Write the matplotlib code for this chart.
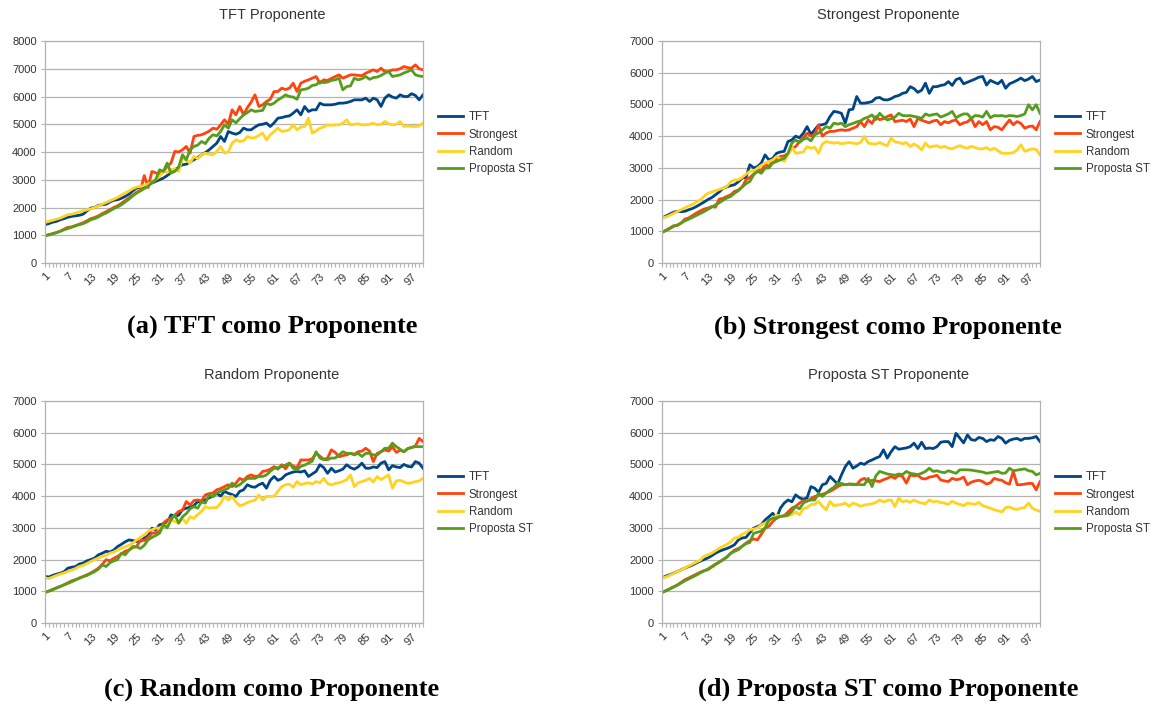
import matplotlib.pyplot as plt

plt.rcParams['font.family'] = ['Liberation Sans', 'DejaVu Sans']

rounds = list(range(1, 101))
tick_rounds = [1, 7, 13, 19, 25, 31, 37, 43, 49, 55, 61, 67, 73, 79, 85, 91, 97]
tick_labels = ['1', '7', '13', '19', '25', '31', '37', '43', '49', '55',
               '61', '67', '73', '79', '85', '91', '97']
series_names = ['TFT', 'Strongest', 'Random', 'Proposta ST']
colors = ['#004586', '#ff420e', '#ffd320', '#579d1c']

# (a) TFT as proponent
tft_a = [
    1380, 1420, 1470, 1500, 1560, 1600, 1650, 1680, 1700, 1720,
    1760, 1880, 1980, 2000, 2080, 2100, 2120, 2200, 2260, 2280,
    2330, 2400, 2480, 2600, 2700, 2720, 2760, 2820, 2880, 2940,
    3000, 3060, 3150, 3260, 3350, 3450, 3540, 3560, 3640, 3720,
    3800, 3900, 3980, 4080, 4200, 4320, 4560, 4380, 4740, 4680,
    4640, 4700, 4860, 4800, 4800, 4900, 4980, 5000, 5040, 4920,
    5050, 5220, 5240, 5280, 5300, 5400, 5520, 5340, 5640, 5460,
    5520, 5520, 5760, 5700, 5700, 5700, 5720, 5760, 5760, 5780,
    5820, 5880, 5880, 5880, 5940, 5820, 5940, 5880, 5640, 5940,
    6060, 5980, 5940, 6060, 6000, 6000, 6100, 6040, 5880, 6060]
strongest_a = [
    985, 1020, 1060, 1100, 1150, 1220, 1285, 1300, 1350, 1400,
    1450, 1520, 1600, 1640, 1700, 1780, 1850, 1920, 2000, 2060,
    2150, 2250, 2350, 2450, 2550, 2620, 3150, 2720, 3300, 3250,
    3200, 3300, 3480, 3600, 4020, 4000, 4080, 4200, 3960, 4560,
    4600, 4620, 4680, 4750, 4860, 4820, 4980, 5160, 5000, 5520,
    5340, 5640, 5340, 5600, 5800, 6060, 5640, 5700, 5820, 5900,
    6180, 6180, 6300, 6250, 6300, 6480, 6180, 6480, 6550, 6600,
    6660, 6720, 6480, 6600, 6580, 6650, 6720, 6780, 6660, 6720,
    6780, 6780, 6760, 6750, 6840, 6900, 6960, 6900, 7020, 6900,
    6900, 6960, 6960, 7000, 7080, 7040, 7020, 7140, 7000, 6960]
random_a = [
    1460, 1500, 1540, 1580, 1620, 1680, 1740, 1760, 1800, 1840,
    1880, 1920, 1950, 2000, 2060, 2120, 2180, 2240, 2300, 2360,
    2450, 2520, 2600, 2680, 2740, 2760, 2800, 2850, 2900, 3000,
    3120, 3300, 3260, 3360, 3400, 3300, 3780, 3700, 3600, 3840,
    3760, 3900, 3960, 3920, 3900, 4020, 4200, 3960, 4000, 4320,
    4440, 4380, 4400, 4560, 4500, 4520, 4600, 4680, 4440, 4620,
    4740, 4860, 4740, 4760, 4800, 4980, 4800, 4900, 4920, 5220,
    4680, 4760, 4860, 4900, 4980, 4960, 4980, 4980, 5040, 5160,
    4980, 5000, 5020, 4980, 4980, 5000, 5040, 4980, 5000, 5100,
    5020, 4980, 5000, 5100, 4920, 4940, 4920, 4920, 4940, 5040]
proposta_a = [
    990, 1010, 1050, 1090, 1140, 1200, 1240, 1290, 1340, 1380,
    1420, 1480, 1560, 1600, 1660, 1740, 1800, 1880, 1960, 2020,
    2100, 2200, 2300, 2420, 2520, 2600, 2680, 2760, 2900, 3000,
    3360, 3300, 3600, 3240, 3300, 3450, 3900, 3720, 4080, 4200,
    4250, 4380, 4300, 4500, 4620, 4580, 4740, 4980, 4860, 5160,
    5050, 5200, 5340, 5420, 5520, 5460, 5480, 5500, 5760, 5700,
    5760, 5880, 5960, 6060, 6000, 5980, 5900, 6240, 6260, 6300,
    6400, 6420, 6540, 6500, 6520, 6580, 6600, 6660, 6240, 6360,
    6380, 6660, 6600, 6640, 6720, 6620, 6680, 6700, 6760, 6840,
    6900, 6720, 6750, 6780, 6850, 6900, 6960, 6780, 6740, 6720]

# (b) Strongest as proponent
tft_b = [
    1420, 1480, 1540, 1600, 1630, 1620, 1630, 1680, 1720, 1780,
    1850, 1920, 2000, 2060, 2150, 2240, 2360, 2400, 2440, 2470,
    2560, 2680, 2700, 3100, 3000, 3040, 3150, 3410, 3250, 3300,
    3460, 3500, 3520, 3830, 3880, 4000, 3950, 4090, 4300, 4050,
    4200, 4350, 4360, 4400, 4620, 4780, 4760, 4720, 4410, 4830,
    4850, 5250, 5040, 5040, 5060, 5090, 5200, 5220, 5150, 5140,
    5180, 5250, 5280, 5350, 5380, 5560, 5500, 5380, 5450, 5670,
    5350, 5560, 5560, 5600, 5620, 5720, 5600, 5780, 5830, 5650,
    5700, 5750, 5800, 5860, 5880, 5610, 5760, 5700, 5650, 5760,
    5510, 5650, 5700, 5760, 5830, 5750, 5800, 5880, 5720, 5770]
strongest_b = [
    965, 1030, 1100, 1175, 1180, 1260, 1385, 1420, 1500, 1575,
    1640, 1700, 1730, 1780, 1760, 2015, 2040, 2100, 2150, 2260,
    2300, 2400, 2620, 2700, 2800, 2940, 2900, 3100, 3050, 3200,
    3280, 3360, 3380, 3450, 3620, 3670, 3830, 3950, 4090, 4000,
    4050, 4350, 4000, 4100, 4150, 4150, 4180, 4200, 4180, 4200,
    4250, 4300, 4460, 4300, 4510, 4400, 4620, 4520, 4550, 4620,
    4670, 4460, 4480, 4500, 4460, 4540, 4300, 4560, 4500, 4460,
    4420, 4480, 4500, 4360, 4460, 4420, 4480, 4510, 4360, 4420,
    4450, 4560, 4300, 4460, 4360, 4460, 4200, 4300, 4280, 4200,
    4360, 4510, 4360, 4460, 4400, 4250, 4300, 4320, 4200, 4460]
random_b = [
    1420, 1450, 1500, 1560, 1620, 1680, 1740, 1800, 1850, 1920,
    1990, 2100, 2200, 2240, 2280, 2320, 2360, 2420, 2560, 2620,
    2620, 2700, 2800, 2890, 2900, 2990, 3080, 3150, 3200, 3250,
    3360, 3280, 3200, 3410, 3670, 3460, 3480, 3500, 3670, 3620,
    3650, 3460, 3750, 3830, 3800, 3780, 3800, 3760, 3780, 3800,
    3780, 3760, 3800, 3990, 3780, 3760, 3750, 3800, 3740, 3700,
    3935, 3820, 3800, 3760, 3800, 3670, 3750, 3680, 3570, 3780,
    3650, 3680, 3700, 3640, 3680, 3620, 3600, 3660, 3700, 3650,
    3620, 3680, 3640, 3600, 3600, 3640, 3560, 3620, 3540, 3460,
    3460, 3460, 3480, 3560, 3730, 3520, 3560, 3600, 3580, 3410]
proposta_b = [
    965, 1020, 1080, 1150, 1200, 1260, 1330, 1380, 1440, 1500,
    1560, 1620, 1690, 1760, 1830, 1900, 1980, 2050, 2100, 2200,
    2280, 2400, 2500, 2570, 2780, 2890, 2830, 2990, 3000, 3150,
    3200, 3250, 3300, 3460, 3780, 3880, 3800, 3900, 3940, 3850,
    4040, 4100, 4200, 4300, 4250, 4410, 4380, 4410, 4300, 4360,
    4400, 4450, 4480, 4560, 4600, 4670, 4520, 4720, 4600, 4510,
    4550, 4600, 4720, 4650, 4640, 4650, 4620, 4600, 4560, 4700,
    4650, 4680, 4700, 4600, 4650, 4700, 4780, 4580, 4650, 4700,
    4700, 4560, 4650, 4640, 4600, 4780, 4580, 4650, 4640, 4650,
    4620, 4650, 4640, 4620, 4650, 4700, 4990, 4830, 4990, 4720]

# (c) Random as proponent
tft_c = [
    1470, 1450, 1500, 1540, 1570, 1620, 1730, 1760, 1780, 1860,
    1890, 1960, 2000, 2050, 2150, 2200, 2260, 2240, 2300, 2410,
    2480, 2560, 2620, 2600, 2570, 2580, 2680, 2750, 2990, 2940,
    3100, 3120, 3150, 3410, 3360, 3400, 3570, 3620, 3650, 3700,
    3830, 3800, 3880, 3950, 4000, 4090, 4000, 4150, 4090, 4050,
    3990, 4150, 4200, 4360, 4300, 4280, 4360, 4410, 4250, 4500,
    4620, 4500, 4550, 4670, 4720, 4760, 4780, 4760, 4800, 4620,
    4700, 4780, 4990, 4900, 4720, 4880, 4760, 4800, 4850, 4990,
    4900, 4850, 4920, 5040, 4880, 4880, 4920, 4900, 5040, 5090,
    4830, 4960, 4920, 4900, 5000, 4940, 4920, 5090, 5040, 4880]
strongest_c = [
    965, 1010, 1060, 1110, 1155, 1210, 1270, 1330, 1365, 1420,
    1470, 1520, 1580, 1650, 1730, 1850, 1995, 1960, 2040, 2100,
    2180, 2260, 2300, 2380, 2410, 2620, 2600, 2700, 2830, 2850,
    2890, 3150, 3250, 3300, 3400, 3520, 3550, 3830, 3720, 3860,
    3880, 3850, 4040, 4080, 4100, 4200, 4240, 4300, 4360, 4300,
    4410, 4560, 4500, 4620, 4670, 4620, 4640, 4780, 4800, 4850,
    4930, 4850, 4990, 4860, 5040, 4940, 4900, 5140, 5140, 5140,
    5180, 5350, 5260, 5160, 5200, 5460, 5380, 5240, 5280, 5300,
    5350, 5320, 5400, 5420, 5510, 5420, 5090, 5350, 5400, 5460,
    5420, 5560, 5380, 5450, 5400, 5500, 5530, 5580, 5820, 5720]
random_c = [
    1420, 1400, 1450, 1500, 1540, 1580, 1625, 1660, 1720, 1785,
    1820, 1880, 1940, 2000, 2050, 2100, 2140, 2200, 2240, 2300,
    2360, 2400, 2450, 2520, 2620, 2700, 2780, 2890, 2940, 2990,
    3000, 3050, 3100, 3250, 3200, 3150, 3300, 3150, 3350, 3300,
    3420, 3520, 3670, 3620, 3640, 3640, 3780, 3990, 3880, 3990,
    3820, 3700, 3730, 3800, 3840, 3870, 4040, 3880, 3990, 3990,
    4000, 4150, 4300, 4360, 4380, 4280, 4460, 4360, 4400, 4420,
    4380, 4460, 4420, 4560, 4400, 4350, 4400, 4420, 4460, 4520,
    4670, 4300, 4420, 4460, 4500, 4560, 4450, 4620, 4520, 4600,
    4670, 4250, 4480, 4500, 4450, 4400, 4420, 4460, 4480, 4560]
proposta_c = [
    965, 1000, 1050, 1100, 1150, 1200, 1250, 1300, 1360, 1410,
    1460, 1500, 1560, 1620, 1700, 1835, 1780, 1900, 1960, 2000,
    2200, 2150, 2300, 2410, 2400, 2350, 2450, 2620, 2700, 2760,
    2830, 3100, 3000, 3250, 3410, 3150, 3350, 3450, 3600, 3670,
    3620, 3830, 3780, 4040, 3980, 4100, 4150, 4200, 4250, 4410,
    4300, 4360, 4460, 4560, 4560, 4560, 4620, 4620, 4670, 4780,
    4880, 4900, 4930, 4980, 5040, 4880, 4830, 4940, 4980, 5040,
    5100, 5400, 5200, 5150, 5150, 5200, 5200, 5300, 5400, 5350,
    5350, 5300, 5350, 5250, 5350, 5350, 5300, 5300, 5400, 5510,
    5510, 5670, 5560, 5480, 5400, 5500, 5540, 5560, 5560, 5560]

# (d) Proposta ST as proponent
tft_d = [
    1420, 1480, 1520, 1570, 1620, 1680, 1730, 1780, 1830, 1890,
    1950, 2000, 2050, 2120, 2200, 2260, 2310, 2350, 2400, 2470,
    2620, 2680, 2700, 2850, 2990, 3040, 3100, 3250, 3350, 3460,
    3300, 3620, 3780, 3880, 3820, 4040, 3950, 3900, 3950, 4300,
    4250, 4120, 4360, 4400, 4620, 4500, 4380, 4670, 4930, 5090,
    4880, 4950, 5040, 5000, 5090, 5140, 5200, 5250, 5460, 5200,
    5400, 5560, 5480, 5500, 5520, 5560, 5670, 5500, 5700, 5500,
    5520, 5500, 5560, 5700, 5720, 5720, 5560, 5980, 5830, 5680,
    5930, 5780, 5760, 5850, 5820, 5720, 5780, 5760, 5880, 5820,
    5670, 5760, 5800, 5820, 5760, 5820, 5820, 5840, 5880, 5720]
strongest_d = [
    965, 1020, 1080, 1140, 1200, 1280, 1365, 1420, 1480, 1540,
    1600, 1650, 1680, 1760, 1840, 1920, 1995, 2080, 2200, 2300,
    2350, 2420, 2520, 2600, 2650, 2620, 2800, 2990, 3050, 3200,
    3310, 3360, 3380, 3500, 3620, 3680, 3780, 3860, 3840, 3920,
    3990, 4020, 4060, 4100, 4150, 4220, 4300, 4360, 4360, 4380,
    4380, 4360, 4510, 4560, 4460, 4500, 4480, 4460, 4520, 4560,
    4620, 4560, 4660, 4620, 4410, 4670, 4640, 4660, 4560, 4540,
    4600, 4620, 4660, 4510, 4480, 4460, 4560, 4520, 4540, 4600,
    4360, 4440, 4480, 4500, 4460, 4380, 4420, 4560, 4520, 4500,
    4420, 4380, 4780, 4360, 4360, 4380, 4400, 4400, 4200, 4460]
random_d = [
    1420, 1450, 1500, 1560, 1620, 1680, 1730, 1800, 1860, 1920,
    1980, 2100, 2150, 2200, 2280, 2360, 2420, 2480, 2560, 2680,
    2700, 2800, 2850, 2940, 2960, 3000, 3100, 3150, 3200, 3300,
    3410, 3360, 3360, 3380, 3420, 3500, 3410, 3600, 3640, 3730,
    3750, 3830, 3680, 3570, 3830, 3700, 3720, 3740, 3780, 3680,
    3780, 3740, 3680, 3720, 3740, 3760, 3800, 3880, 3820, 3860,
    3880, 3670, 3935, 3820, 3860, 3800, 3880, 3820, 3780, 3760,
    3880, 3820, 3840, 3800, 3780, 3740, 3840, 3780, 3740, 3700,
    3780, 3760, 3740, 3800, 3700, 3660, 3620, 3570, 3540, 3500,
    3640, 3660, 3600, 3580, 3620, 3640, 3780, 3620, 3560, 3520]
proposta_d = [
    965, 1010, 1070, 1130, 1190, 1260, 1330, 1390, 1450, 1510,
    1580, 1640, 1700, 1780, 1860, 1920, 2000, 2080, 2200, 2260,
    2310, 2420, 2500, 2540, 2830, 2860, 2900, 3000, 3250, 3300,
    3320, 3360, 3380, 3400, 3520, 3670, 3600, 3780, 3850, 3880,
    3880, 4090, 3990, 4100, 4200, 4280, 4410, 4400, 4360, 4380,
    4360, 4380, 4360, 4360, 4560, 4300, 4640, 4780, 4740, 4700,
    4680, 4660, 4700, 4680, 4780, 4720, 4700, 4680, 4720, 4780,
    4880, 4780, 4800, 4760, 4740, 4800, 4760, 4720, 4830, 4830,
    4830, 4820, 4800, 4780, 4760, 4720, 4740, 4760, 4780, 4720,
    4730, 4880, 4800, 4820, 4840, 4860, 4800, 4780, 4670, 4720]

titles = ['TFT Proponente', 'Strongest Proponente',
          'Random Proponente', 'Proposta ST Proponente']
captions = ['(a) TFT como Proponente', '(b) Strongest como Proponente',
            '(c) Random como Proponente', '(d) Proposta ST como Proponente']
y_max = [8000, 7000, 7000, 7000]
panel_data = [
    [tft_a, strongest_a, random_a, proposta_a],
    [tft_b, strongest_b, random_b, proposta_b],
    [tft_c, strongest_c, random_c, proposta_c],
    [tft_d, strongest_d, random_d, proposta_d],
]

W, H = 1157, 702
fig = plt.figure(figsize=(W / 100, H / 100), dpi=100)

# plot area corners in pixels (left, top), chart title/caption centres
plot_boxes = [(45, 41), (662, 41), (45, 401), (662, 401)]
centres_x = [272, 888, 272, 888]
title_y = [15, 15, 375, 375]
caption_y = [327, 327, 689, 689]
grid_color = '#b3b3b3'
text_color = '#333333'

for k in range(4):
    px, py = plot_boxes[k]
    ax = fig.add_axes([px / W, 1 - (py + 222) / H, 378 / W, 222 / H])
    for values, name, color in zip(panel_data[k], series_names, colors):
        ax.plot(rounds, values, color=color, lw=2, label=name,
                solid_joinstyle='round')

    ax.set_xlim(1, 100)
    ax.set_ylim(0, y_max[k])
    ax.set_yticks(range(0, y_max[k] + 1, 1000))
    ax.set_xticks(tick_rounds)
    ax.set_xticklabels(tick_labels, rotation=45, ha='right',
                       rotation_mode='anchor')
    ax.set_xticks(rounds, minor=True)
    ax.tick_params(axis='both', which='both', length=3, width=0.8,
                   color=grid_color, labelcolor=text_color, labelsize=8)
    ax.tick_params(axis='x', which='major', pad=3)
    ax.tick_params(axis='y', pad=3)
    ax.yaxis.grid(True, color=grid_color, lw=0.9)
    ax.set_axisbelow(True)
    for spine in ax.spines.values():
        spine.set_color(grid_color)
        spine.set_linewidth(0.9)

    ax.legend(loc='center left', bbox_to_anchor=(1.04, 0.54), frameon=False,
              fontsize=8.3, labelcolor=text_color, handlelength=2.2,
              handletextpad=0.45, labelspacing=0.45, borderpad=0,
              borderaxespad=0)

    fig.text(centres_x[k] / W, 1 - title_y[k] / H, titles[k], ha='center',
             va='center', fontsize=10.5, color=text_color)
    fig.text(centres_x[k] / W, 1 - caption_y[k] / H, captions[k],
             ha='center', va='center', fontsize=19, fontweight='bold',
             family='Liberation Serif', color='black')

fig.savefig('out.png', dpi=100)
